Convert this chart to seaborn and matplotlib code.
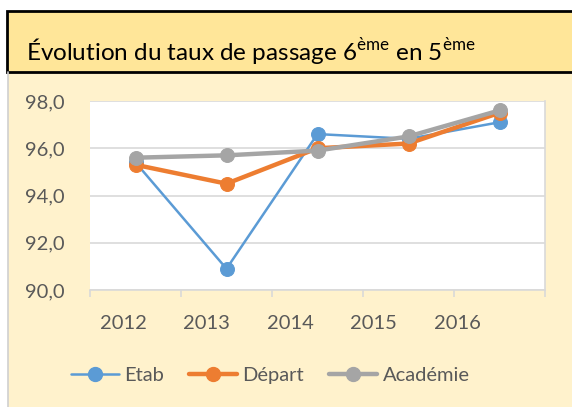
import matplotlib
matplotlib.use('Agg')
import matplotlib.pyplot as plt
import seaborn as sns
import pandas as pd
from matplotlib.patches import Rectangle
from matplotlib.lines import Line2D

years = ['2012', '2013', '2014', '2015', '2016']
etab = [95.4, 90.9, 96.6, 96.4, 97.1]
depart = [95.3, 94.5, 96.0, 96.2, 97.5]
academie = [95.6, 95.7, 95.9, 96.5, 97.6]

series = ['Etab', 'Départ', 'Académie']
colors = ['#5B9BD5', '#ED7D31', '#A5A5A5']
widths = [1.8, 3.2, 3.2]

sns.set_style('white')
plt.rcParams['font.family'] = ['Lato', 'DejaVu Sans']
plt.rcParams['mathtext.fontset'] = 'custom'
plt.rcParams['mathtext.rm'] = 'Lato'

df = pd.DataFrame({'pos': range(len(years)), 'Etab': etab, 'Départ': depart, 'Académie': academie})

fig = plt.figure(figsize=(5.72, 4.07), dpi=100)
W, H = 572, 407

# backgrounds: pale chart area, title box
fig.patches.append(Rectangle((8 / W, 0), 1, (H - 72) / H, transform=fig.transFigure,
                             facecolor='#FFF2CC', edgecolor='none', zorder=0))
fig.lines.append(Line2D([7.5 / W, 7.5 / W], [0, (H - 72) / H], transform=fig.transFigure,
                        color='#D0D0D0', lw=1.2))
fig.patches.append(Rectangle((6.5 / W, (H - 72) / H), 1, 61 / H, transform=fig.transFigure,
                             facecolor='#FFE699', edgecolor='black', lw=2, zorder=1))
fig.text(26 / W, (H - 61) / H,
         r'Évolution du taux de passage 6$^{\mathrm{ème}}$ en 5$^{\mathrm{ème}}$',
         fontsize=17.5, color='black', va='baseline', ha='left', zorder=2)

ax = fig.add_axes([90 / W, 1 - 290 / H, 455 / W, 189 / H])
ax.set_zorder(3)
ax.set_facecolor('white')

for name, c, lw in zip(series, colors, widths):
    sns.lineplot(data=df, x='pos', y=name, ax=ax, color=c, linewidth=lw,
                 marker='o', markersize=10, markeredgecolor=c, label=name)

ax.set_xlim(-0.5, len(years) - 0.5)
ax.set_ylim(90, 98)
ax.set_yticks([90, 92, 94, 96, 98])
ax.set_yticklabels([f'{v:.1f}'.replace('.', ',') for v in [90, 92, 94, 96, 98]])
ax.yaxis.grid(True, color='#D9D9D9', lw=1.2)
ax.set_axisbelow(True)
ax.set_xlabel('')
ax.set_ylabel('')
ax.tick_params(axis='y', length=0, labelsize=14.5, labelcolor='#595959', pad=18)
ax.set_xticks([i - 0.5 for i in range(len(years) + 1)])
ax.set_xticklabels([])
ax.tick_params(axis='x', length=5, color='#D9D9D9', width=1.2)
for s in ['top', 'left']:
    ax.spines[s].set_visible(False)
for s in ['bottom', 'right']:
    ax.spines[s].set_color('#D9D9D9')
    ax.spines[s].set_linewidth(1.2)

# category labels (slightly compressed to the left as in the source)
lab = ax.twiny()
lab.set_zorder(4)
lab.set_xlim(-0.395, 5.054)
lab.xaxis.set_ticks_position('bottom')
lab.set_xticks(range(len(years)))
lab.set_xticklabels(years)
lab.tick_params(axis='x', length=0, labelsize=14.5, labelcolor='#595959', pad=18)
for s in lab.spines.values():
    s.set_visible(False)

ax.get_legend().remove()
handles = [Line2D([], [], color=c, lw=lw, marker='o', markersize=10) for c, lw in zip(colors, widths)]
fig.legend(handles, series, loc='center', bbox_to_anchor=(270 / W, 1 - 375 / H), ncol=3,
           frameon=False, fontsize=14.5, handlelength=2.4, columnspacing=1.25,
           handletextpad=0.25, labelcolor='#595959')

fig.savefig('out.png', dpi=100)
